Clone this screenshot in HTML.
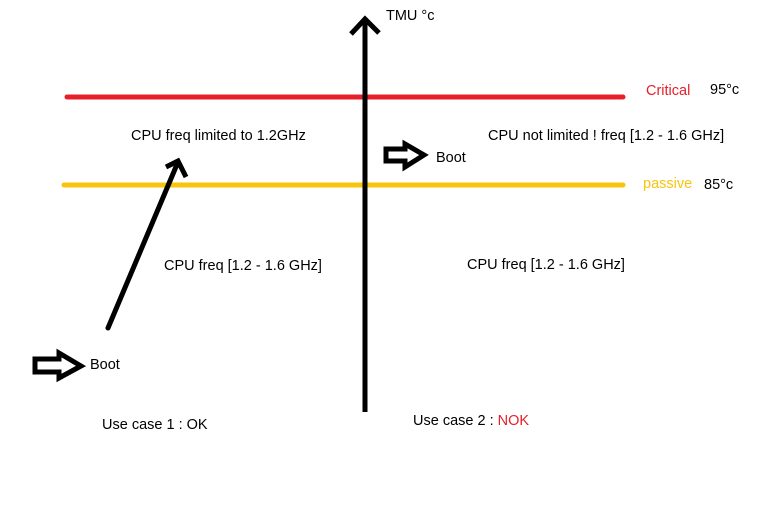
<!DOCTYPE html>
<html><head><style>
body{margin:0;background:#fff;width:783px;height:516px;overflow:hidden;position:relative;font-family:"Liberation Sans",sans-serif;font-size:14.5px;color:#000}
.t{position:absolute;white-space:nowrap;line-height:16px}
</style></head><body>
<svg width="783" height="516" style="position:absolute;left:0;top:0">
<line x1="67" y1="97" x2="623" y2="97" stroke="#e5202a" stroke-width="5" stroke-linecap="round"/>
<line x1="64" y1="185" x2="623" y2="185" stroke="#f9c40d" stroke-width="5" stroke-linecap="round"/>
<line x1="365" y1="412" x2="365" y2="20" stroke="#000" stroke-width="5"/>
<polyline points="351,34 365,19 379,33" fill="none" stroke="#000" stroke-width="5"/>
<line x1="108" y1="328" x2="178" y2="162" stroke="#000" stroke-width="5" stroke-linecap="round"/>
<polyline points="166,167 178,161 186,177" fill="none" stroke="#000" stroke-width="5"/>
<polygon points="35,359 59,359 59,353 81,366 59,378 59,372 35,372" fill="#fff" stroke="#000" stroke-width="5"/>
<polygon points="386,149 405,149 405,144 424,155 405,167 405,161 386,161" fill="#fff" stroke="#000" stroke-width="5"/>
</svg>
<div class="t" style="left:386px;top:8px">TMU °c</div>
<div class="t" style="left:646px;top:83px;color:#e5202a">Critical</div>
<div class="t" style="left:710px;top:82px">95°c</div>
<div class="t" style="left:131px;top:128px">CPU freq limited to 1.2GHz</div>
<div class="t" style="left:488px;top:128px">CPU not limited ! freq [1.2 - 1.6 GHz]</div>
<div class="t" style="left:436px;top:150px">Boot</div>
<div class="t" style="left:643px;top:176px;color:#f9c40d">passive</div>
<div class="t" style="left:704px;top:177px">85°c</div>
<div class="t" style="left:164px;top:258px">CPU freq [1.2 - 1.6 GHz]</div>
<div class="t" style="left:467px;top:257px">CPU freq [1.2 - 1.6 GHz]</div>
<div class="t" style="left:90px;top:357px">Boot</div>
<div class="t" style="left:102px;top:417px">Use case 1 : OK</div>
<div class="t" style="left:413px;top:413px">Use case 2 : <span style="color:#e5202a">NOK</span></div>
</body></html>
